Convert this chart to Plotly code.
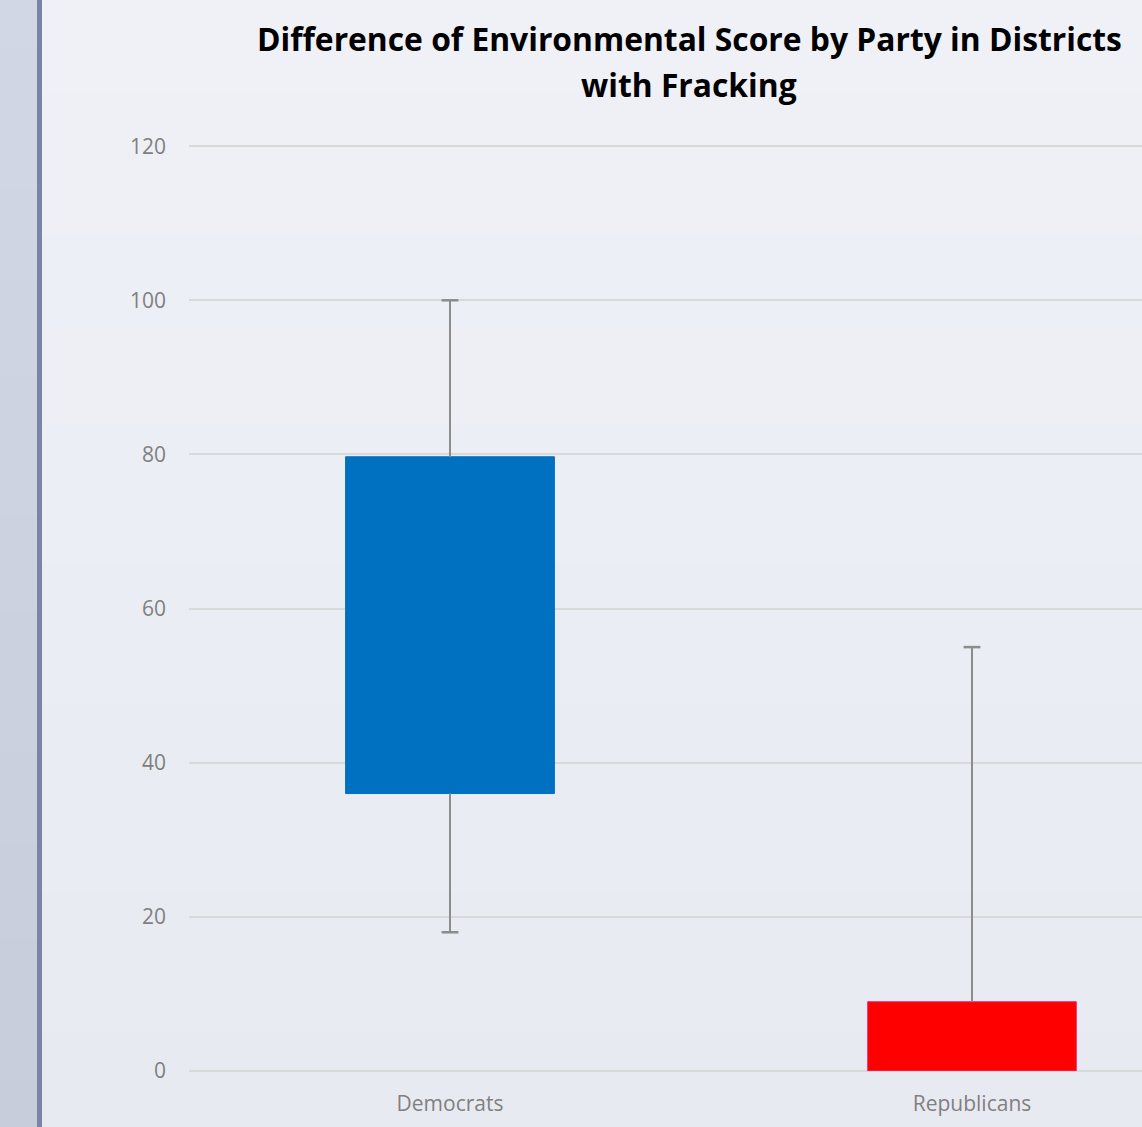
import plotly.graph_objects as go

categories = ["Democrats", "Republicans"]
low = [18, 0]
q1 = [36, 0]
q3 = [79.7, 9]
high = [100, 55]
box_colors = ["#0070C0", "#FF0000"]
box_lines = ["#0070C0", "#E8358A"]
tick_vals = [0, 20, 40, 60, 80, 100, 120]
title_lines = ["Difference of Environmental Score by Party in Districts", "with Fracking"]

W, H = 1142, 1127
L, R, T, B = 189, 0, 145, 56
pw = W - L - R
ph = H - T - B


def px(xp):
    return (xp - L) / pw


def py(yp):
    return (H - B - yp) / ph


def mix(c1, c2, t):
    a = [int(c1[i:i + 2], 16) for i in (1, 3, 5)]
    b = [int(c2[i:i + 2], 16) for i in (1, 3, 5)]
    return "rgb(%d,%d,%d)" % tuple(round(a[k] + (b[k] - a[k]) * t) for k in range(3))


fig = go.Figure()

fig.add_trace(go.Bar(
    x=categories,
    y=[h - l for h, l in zip(q3, q1)],
    base=q1,
    width=0.4,
    marker=dict(color=box_colors, line=dict(color=box_lines, width=1)),
    hoverinfo="skip",
    showlegend=False,
))

# whisker lines (from box edge to extreme)
wx, wy = [], []
for c, lo, a, b, hi in zip(categories, low, q1, q3, high):
    if hi > b:
        wx += [c, c, None]
        wy += [b, hi, None]
    if lo < a:
        wx += [c, c, None]
        wy += [a, lo, None]
fig.add_trace(go.Scatter(
    x=wx, y=wy, mode="lines",
    line=dict(color="#8C8C8C", width=2),
    showlegend=False, hoverinfo="skip",
))

# whisker caps
cx, cy = [], []
for c, lo, a, b, hi in zip(categories, low, q1, q3, high):
    if hi > b:
        cx.append(c)
        cy.append(hi)
    if lo < a:
        cx.append(c)
        cy.append(lo)
fig.add_trace(go.Scatter(
    x=cx, y=cy, mode="markers",
    marker=dict(symbol="line-ew", size=12, line=dict(color="#8C8C8C", width=2.5)),
    showlegend=False, hoverinfo="skip",
))

# background gradient bands
shapes = []
n = 24
for i in range(n):
    y0 = i * H / n
    y1 = (i + 1) * H / n + 1
    t = (i + 0.5) / n
    shapes.append(dict(type="rect", xref="paper", yref="paper",
                       x0=px(42), x1=px(W + 5), y0=py(y1), y1=py(y0),
                       fillcolor=mix("#EFF1F7", "#E8EAF2", t),
                       line=dict(width=0), layer="below"))
    shapes.append(dict(type="rect", xref="paper", yref="paper",
                       x0=px(-5), x1=px(37), y0=py(y1), y1=py(y0),
                       fillcolor=mix("#D1D7E4", "#C8CDDB", t),
                       line=dict(width=0), layer="below"))
shapes.append(dict(type="rect", xref="paper", yref="paper",
                   x0=px(37), x1=px(42), y0=py(H + 5), y1=py(-5),
                   fillcolor="#7A84A6", line=dict(width=0), layer="below"))

annotations = [
    dict(text="<b>%s</b>" % title_lines[0], xref="paper", yref="paper",
         x=px(689), y=py(38), xanchor="center", yanchor="middle",
         showarrow=False, font=dict(family="Open Sans, sans-serif", size=31.8, color="#000000")),
    dict(text="<b>%s</b>" % title_lines[1], xref="paper", yref="paper",
         x=px(689), y=py(84), xanchor="center", yanchor="middle",
         showarrow=False, font=dict(family="Open Sans, sans-serif", size=31.8, color="#000000")),
]

fig.update_layout(
    width=W, height=H,
    margin=dict(l=L, r=R, t=T, b=B, pad=0),
    paper_bgcolor="#ECEEF4",
    plot_bgcolor="rgba(0,0,0,0)",
    font=dict(family="Open Sans, sans-serif", color="#808080", size=21),
    bargap=0.6,
    xaxis=dict(
        type="category", range=[-0.5, (W - 450) / 522.0],
        showgrid=False, zeroline=False, showline=False,
        ticks="", ticklabelstandoff=18,
        tickfont=dict(size=21, color="#808080"),
    ),
    yaxis=dict(
        range=[0, 120.15], tickvals=tick_vals,
        showgrid=True, gridcolor="#D9D9D9", gridwidth=2,
        zeroline=True, zerolinecolor="#D9D9D9", zerolinewidth=2,
        showline=False, ticks="",
        ticklabelstandoff=22,
        tickfont=dict(size=21, color="#808080"),
    ),
    shapes=shapes,
    annotations=annotations,
)

fig.write_html("out.html", config={"displayModeBar": False},
               post_script="document.body.style.margin='0';document.body.style.overflow='hidden';")
